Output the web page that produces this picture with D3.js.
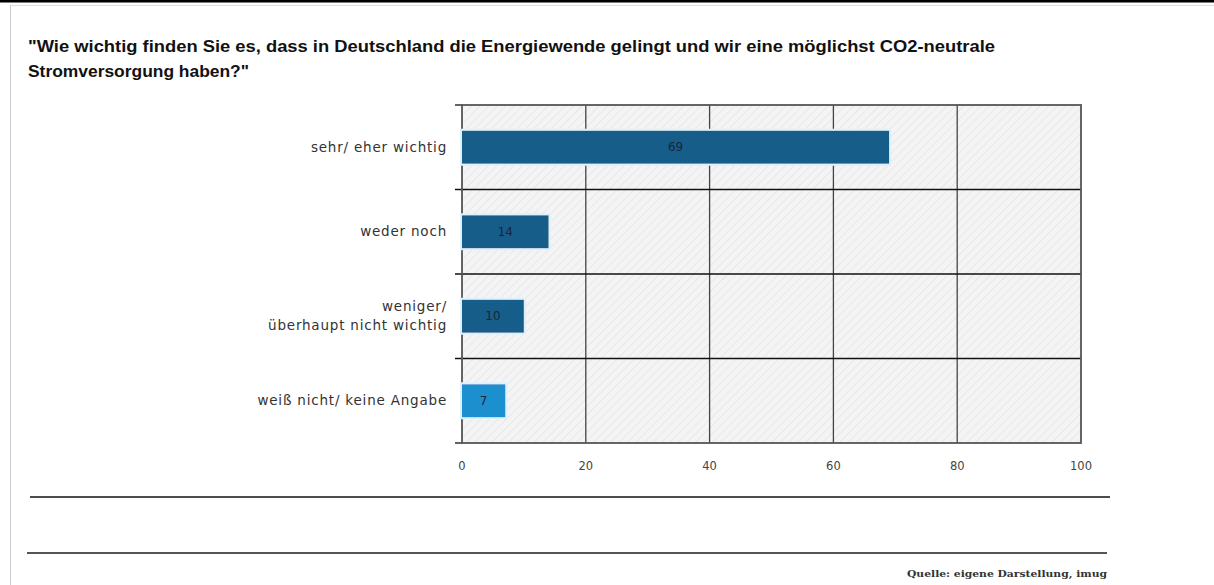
<!DOCTYPE html>
<html>
<head>
<meta charset="utf-8">
<script src="https://cdn.jsdelivr.net/npm/d3@7"></script>
<style>
  html, body { margin: 0; padding: 0; background: #fff; }
  svg { display: block; }
</style>
</head>
<body>
<svg id="chart" width="1214" height="585"></svg>
<script>
// Survey answers (percent)
const categories = [
  ["sehr/ eher wichtig"],
  ["weder noch"],
  ["weniger/", "überhaupt nicht wichtig"],
  ["weiß nicht/ keine Angabe"]
];
const values = [69, 14, 10, 7];
const barColors = ["#135d8a", "#135d8a", "#135d8a", "#1a90cf"];
const xTicks = [0, 20, 40, 60, 80, 100];
const titleLines = [
  "\"Wie wichtig finden Sie es, dass in Deutschland die Energiewende gelingt und wir eine möglichst CO2-neutrale",
  "Stromversorgung haben?\""
];
const sourceText = "Quelle: eigene Darstellung, imug";

const svg = d3.select("#chart");
const W = 1214, H = 585;

// page frame
svg.append("rect").attr("x", 0).attr("y", 0).attr("width", W).attr("height", 2.5).attr("fill", "#000");
svg.append("line").attr("x1", 10).attr("x2", W).attr("y1", 5.5).attr("y2", 5.5)
  .attr("stroke", "#e0e0e0").attr("stroke-width", 1);
svg.append("line").attr("x1", 10.5).attr("x2", 10.5).attr("y1", 5).attr("y2", H)
  .attr("stroke", "#c8ccd4").attr("stroke-width", 1);

// title (condensed bold)
const title = svg.append("g").attr("font-family", "'Liberation Sans', Arial, sans-serif")
  .attr("font-weight", "bold").attr("font-size", 16).attr("fill", "#111");
title.append("text").attr("x", 28).attr("y", 52).text(titleLines[0])
  .attr("textLength", 967).attr("lengthAdjust", "spacingAndGlyphs");
title.append("text").attr("x", 28).attr("y", 77).text(titleLines[1])
  .attr("textLength", 221).attr("lengthAdjust", "spacingAndGlyphs");

// plot area
const plot = { left: 462, right: 1081, top: 105, bottom: 443 };
const x = d3.scaleLinear().domain([0, 100]).range([plot.left, plot.right]);
const y = d3.scaleBand().domain(d3.range(values.length)).range([plot.top, plot.bottom]).paddingInner(0).paddingOuter(0);

// hatched background
const defs = svg.append("defs");
const pat = defs.append("pattern").attr("id", "hatch").attr("patternUnits", "userSpaceOnUse")
  .attr("width", 6).attr("height", 6).attr("patternTransform", "rotate(45)");
pat.append("rect").attr("width", 6).attr("height", 6).attr("fill", "#f4f4f4");
pat.append("line").attr("x1", 0).attr("x2", 0).attr("y1", 0).attr("y2", 6)
  .attr("stroke", "#e0e0e0").attr("stroke-width", 1.2);

const glow = defs.append("filter").attr("id", "glow").attr("x", "-10%").attr("y", "-40%").attr("width", "120%").attr("height", "180%");
glow.append("feMorphology").attr("in", "SourceAlpha").attr("operator", "dilate").attr("radius", 1.5).attr("result", "d");
glow.append("feFlood").attr("flood-color", "#ddf0fb");
glow.append("feComposite").attr("in2", "d").attr("operator", "in").attr("result", "halo");
const fm = glow.append("feMerge");
fm.append("feMergeNode").attr("in", "halo");
fm.append("feMergeNode").attr("in", "SourceGraphic");

svg.append("rect").attr("x", plot.left).attr("y", plot.top)
  .attr("width", plot.right - plot.left).attr("height", plot.bottom - plot.top)
  .attr("fill", "url(#hatch)");

// vertical gridlines
svg.append("g").selectAll("line").data(xTicks.slice(1, -1)).join("line")
  .attr("x1", d => x(d)).attr("x2", d => x(d))
  .attr("y1", plot.top).attr("y2", plot.bottom)
  .attr("stroke", "#444").attr("stroke-width", 1.3);

// row separators with outer ticks
svg.append("g").selectAll("line").data(d3.range(1, values.length)).join("line")
  .attr("x1", plot.left - 7).attr("x2", plot.right)
  .attr("y1", d => y(d)).attr("y2", d => y(d))
  .attr("stroke", "#111").attr("stroke-width", 1.3);
svg.append("g").selectAll("line").data([plot.top, plot.bottom]).join("line")
  .attr("x1", plot.left - 7).attr("x2", plot.left)
  .attr("y1", d => d).attr("y2", d => d)
  .attr("stroke", "#111").attr("stroke-width", 1.3);

// plot border
svg.append("rect").attr("x", plot.left).attr("y", plot.top)
  .attr("width", plot.right - plot.left).attr("height", plot.bottom - plot.top)
  .attr("fill", "none").attr("stroke", "#555").attr("stroke-width", 1.8);

// bars
const barH = 33;
const bars = svg.append("g").attr("filter", "url(#glow)");
bars.selectAll("rect").data(values).join("rect")
  .attr("x", x(0))
  .attr("y", (d, i) => y(i) + y.bandwidth() / 2 - barH / 2)
  .attr("width", d => x(d) - x(0))
  .attr("height", barH)
  .attr("fill", (d, i) => barColors[i]);

// value labels
svg.append("g").attr("font-family", "'DejaVu Sans', sans-serif").attr("font-size", 12).attr("fill", "#1c2530")
  .selectAll("text").data(values).join("text")
  .attr("x", d => (x(0) + x(d)) / 2)
  .attr("y", (d, i) => y(i) + y.bandwidth() / 2 + 4)
  .attr("text-anchor", "middle")
  .text(d => d);

// category labels
const cat = svg.append("g").attr("font-family", "'DejaVu Sans', sans-serif").attr("font-size", 13.5)
  .attr("letter-spacing", 0.8).attr("fill", "#333");
categories.forEach((lines, i) => {
  const cy = y(i) + y.bandwidth() / 2;
  const t = cat.append("text").attr("text-anchor", "end");
  lines.forEach((ln, j) => {
    t.append("tspan").attr("x", 447)
      .attr("y", cy + 4.5 + (j - (lines.length - 1) / 2) * 19)
      .text(ln);
  });
});

// x axis tick labels
svg.append("g").attr("font-family", "'DejaVu Sans', sans-serif").attr("font-size", 11.5).attr("fill", "#444")
  .selectAll("text").data(xTicks).join("text")
  .attr("x", d => x(d)).attr("y", 470)
  .attr("text-anchor", "middle").text(d => d);

// footer rules
svg.append("line").attr("x1", 30).attr("x2", 1110).attr("y1", 497).attr("y2", 497)
  .attr("stroke", "#111").attr("stroke-width", 1.4);
svg.append("line").attr("x1", 27).attr("x2", 1107).attr("y1", 553).attr("y2", 553)
  .attr("stroke", "#555").attr("stroke-width", 2);

// source
svg.append("text").attr("x", 1107).attr("y", 577).attr("text-anchor", "end")
  .attr("font-family", "'DejaVu Serif', 'Liberation Serif', serif").attr("font-size", 10)
  .attr("font-weight", "bold").attr("fill", "#333").text(sourceText)
  .attr("textLength", 200).attr("lengthAdjust", "spacingAndGlyphs");
</script>
</body>
</html>
